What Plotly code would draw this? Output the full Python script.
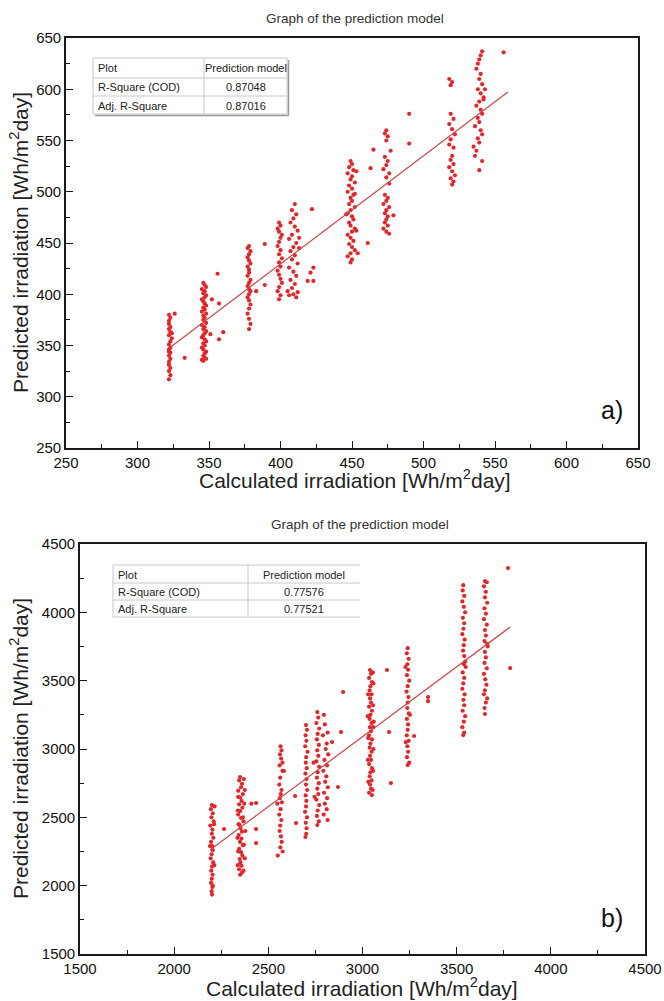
import plotly.graph_objects as go

W, H = 664, 1001

# ---------------- Panel a) data ----------------
a_calc = [
    322,323,322,322,323,322,323,322,324,323,322,323,322,323,322,323,322,322,323,322,323,322,326,333,324,322,
    346,347,348,345,347,346,348,347,345,346,347,348,346,347,345,348,346,347,346,348,345,347,346,348,347,346,345,347,348,346,347,345,346,348,347,346,347,345,346,348,
    351,357,357,360,356,352,
    378,377,379,378,377,378,379,377,378,378,377,379,378,377,378,379,378,377,378,379,378,377,378,379,378,389,389,383,
    399,400,398,399,401,400,399,398,400,399,401,399,400,398,399,400,401,399,398,400,399,
    410,408,411,409,407,410,412,408,406,411,409,407,410,408,412,406,409,411,407,410,408,405,409,411,406,412,413,413,
    422,421,423,419,423,
    449,450,448,451,447,450,449,452,448,450,447,451,449,450,448,452,449,447,450,451,448,449,452,450,447,449,451,448,450,452,449,447,450,449,453,452,446,453,
    454,461,463,465,
    474,473,475,474,473,475,474,472,476,474,473,475,474,472,476,474,473,475,474,473,475,472,474,476,477,476,
    479,490,490,
    518,520,519,519,521,518,520,522,519,518,521,520,519,521,518,520,522,519,521,520,
    541,540,539,538,537,540,539,541,538,540,542,539,537,540,541,538,539,536,540,541,538,539,535,537,536,541,539,543,542,
    556,
]
a_pred = [
    380,377,374,371,368,366,363,360,357,354,351,348,346,343,340,337,334,331,328,325,321,317,381,338,362,344,
    411,409,407,405,403,401,399,397,395,393,391,389,387,385,383,381,379,377,375,372,370,368,366,364,362,360,358,356,354,352,350,348,346,344,342,340,338,336,335,337,
    361,391,356,363,420,395,
    447,445,442,439,436,433,430,427,424,421,418,414,411,408,405,403,400,397,394,390,386,381,376,371,366,449,409,403,
    470,467,464,461,458,455,451,447,443,439,435,431,427,423,419,415,411,407,403,399,395,
    488,482,478,474,470,466,462,458,454,450,446,442,438,434,430,426,422,418,414,410,406,403,400,397,399,402,445,455,
    483,421,426,413,413,
    530,527,524,521,518,515,512,509,506,503,500,497,494,491,488,485,482,479,476,473,470,467,464,461,458,455,452,449,446,443,440,437,434,431,520,498,478,462,
    440,450,523,541,
    560,557,554,550,534,530,526,522,518,514,497,494,491,488,485,482,479,476,473,470,467,464,461,459,540,508,
    477,576,547,
    610,607,604,576,571,566,561,556,551,546,543,535,531,527,524,520,516,513,510,507,
    637,633,629,625,620,615,610,605,600,596,592,588,584,580,576,572,568,564,560,556,552,548,544,540,535,530,521,600,590,
    636,
]
a_fit_x = [322, 559]
a_fit_y = [347.3, 597.4]
a_stats = [["Plot", "Prediction model"], ["R-Square (COD)", "0.87048"], ["Adj. R-Square", "0.87016"]]

# ---------------- Panel b) data ----------------
b_calc = [
    2200,2195,2205,2198,2210,2192,2203,2200,2208,2196,2202,2205,2199,2194,2207,2201,2197,2204,2200,2196,2203,2199,2201,2215,2212,2190,2213,2205,
    2265,
    2350,2345,2360,2355,2340,2365,2350,2358,2345,2362,2350,2340,2355,2368,2347,2352,2360,2343,2357,2350,2365,2345,2355,2362,2348,2352,2358,2345,2360,2350,
    2370,2375,2372,2365,2378,2370,2375,2368,2340,2338,2342,2336,2340,2338,
    2435,2435,2435,2410,
    2565,2570,2562,2568,2560,2575,2563,2558,2570,2566,2561,2572,2565,2558,2569,2563,2560,2567,2571,2564,2576,2550,2575,2548,
    2583,2642,2647,
    2700,2705,2698,2702,2696,2708,2701,2699,2704,2697,2703,2700,2706,2698,2702,2700,2695,2705,2699,2703,2701,2697,
    2760,2765,2755,2770,2762,2758,2768,2760,2765,2755,2770,2762,2758,2768,2760,2765,2755,2770,2762,2758,2768,2760,
    2795,2800,2790,2805,2798,2792,2802,2796,2800,2794,2815,2810,2818,2812,2808,2816,2812,2810,2815,
    2838,2870,2886,2897,2740,2745,
    3040,3045,3035,3050,3042,3038,3048,3040,3045,3035,3050,3042,3038,3048,3040,3045,3035,3050,3042,3038,3048,3040,3045,3035,3050,3042,3038,3048,3040,3045,3035,3050,
    3055,3058,3030,3056,3028,3057,3030,3058,3029,3056,3031,3054,
    3130,3141,3151,3060,
    3240,3235,3245,3238,3242,3236,3248,3240,3234,3244,3240,3238,3246,3236,3242,3240,3235,3245,3238,3242,3236,3248,3240,3228,3252,3230,
    3274,3348,3348,
    3535,3532,3540,3530,3538,3545,3533,3540,3536,3530,3542,3538,3534,3540,3545,3538,3548,3532,3540,3535,3530,3542,3536,3540,3532,3545,3538,3530,3540,3535,
    3650,3660,3645,3655,3650,3662,3648,3655,3645,3660,3650,3655,3648,3662,3665,3650,3655,3648,3660,3645,3652,3658,3650,3645,3662,3655,3648,3650,
    3773,3784,
]
b_pred = [
    2590,2560,2530,2500,2470,2440,2410,2380,2350,2320,2290,2260,2230,2200,2170,2140,2110,2080,2050,2020,1990,1960,1935,2580,2450,2290,2150,2000,
    2414,
    2795,2770,2745,2720,2695,2670,2645,2620,2595,2570,2545,2520,2495,2470,2445,2420,2395,2370,2345,2320,2295,2270,2245,2220,2195,2170,2145,2120,2095,2080,
    2780,2700,2600,2500,2400,2300,2200,2110,2650,2550,2450,2350,2250,2150,
    2605,2414,2312,2600,
    3020,2990,2960,2930,2880,2840,2790,2740,2700,2670,2640,2610,2560,2520,2480,2440,2400,2360,2320,2280,2250,2220,2900,2600,
    2839,2656,2458,
    3175,3140,3100,3060,3020,2980,2940,2900,2860,2820,2780,2740,2700,2660,2620,2580,2540,2500,2460,2420,2380,2356,
    3270,3230,3190,3150,3110,3070,3030,2990,2950,2910,2870,2830,2790,2750,2710,2670,2630,2590,2550,2510,2470,2444,
    3250,3180,3100,3000,2920,2840,2760,2680,2600,2520,3120,3040,2960,2880,2800,2720,2640,2560,2480,
    3051,2722,3124,3417,2900,2650,
    3578,3550,3520,3490,3460,3430,3400,3370,3340,3310,3280,3250,3220,3190,3160,3130,3100,3070,3040,3010,2980,2950,2920,2890,2860,2830,2800,2770,2740,2710,2680,2663,
    3560,3480,3400,3320,3240,3160,3080,3000,2920,2840,2760,2700,
    3578,3124,2751,3200,
    3738,3700,3660,3620,3580,3540,3500,3460,3420,3380,3340,3300,3260,3220,3180,3140,3100,3060,3020,2980,2940,2900,2883,3600,3250,3050,
    3095,3380,3350,
    4199,4160,4120,4080,4040,4000,3960,3920,3880,3840,3800,3760,3720,3680,3640,3620,3600,3560,3520,3480,3440,3400,3360,3320,3280,3240,3200,3160,3120,3102,
    4229,4220,4190,4150,4110,4070,4030,3990,3950,3910,3870,3830,3790,3770,3750,3710,3670,3630,3590,3550,3510,3470,3430,3400,3370,3340,3300,3256,
    4324,3592,
]
b_fit_x = [2190, 3784]
b_fit_y = [2261, 3892]
b_stats = [["Plot", "Prediction model"], ["R-Square (COD)", "0.77576"], ["Adj. R-Square", "0.77521"]]

TITLE = "Graph of the prediction model"
X_TITLE = "Calculated irradiation [Wh/m<sup>2</sup>day]"
Y_TITLE = "Predicted irradiation [Wh/m<sup>2</sup>day]"

FONT = "Liberation Sans, Arial, sans-serif"
PT_COLOR = "#e0282c"
LINE_COLOR = "#c9474b"


def px(x):
    return x / W


def py(y):
    return 1 - y / H


fig = go.Figure()

# panel geometry in pixels: (left, right, top, bottom)
geo = {
    "a": (66, 638, 38, 448),
    "b": (80, 645, 544, 954),
}

fig.add_trace(go.Scatter(x=a_calc, y=a_pred, mode="markers", xaxis="x", yaxis="y",
                         marker=dict(color=PT_COLOR, size=4.2), showlegend=False))
fig.add_trace(go.Scatter(x=a_fit_x, y=a_fit_y, mode="lines", xaxis="x", yaxis="y",
                         line=dict(color=LINE_COLOR, width=1.2), showlegend=False))
fig.add_trace(go.Scatter(x=b_calc, y=b_pred, mode="markers", xaxis="x2", yaxis="y2",
                         marker=dict(color=PT_COLOR, size=4.2), showlegend=False))
fig.add_trace(go.Scatter(x=b_fit_x, y=b_fit_y, mode="lines", xaxis="x2", yaxis="y2",
                         line=dict(color=LINE_COLOR, width=1.2), showlegend=False))


def axis(rng, dtick, minor_dtick, dom, anchor):
    return dict(
        range=rng, dtick=dtick, tick0=rng[0], domain=dom, anchor=anchor, automargin=False,
        showgrid=False, zeroline=False, showline=True, linecolor="#1a1a1a", linewidth=1.6,
        mirror=True, ticks="inside", ticklen=7, tickwidth=1.3, tickcolor="#1a1a1a",
        minor=dict(ticks="inside", ticklen=4, tickwidth=1.2, dtick=minor_dtick, tick0=rng[0],
                   tickcolor="#1a1a1a", showgrid=False),
        tickfont=dict(family=FONT, size=15, color="#111"),
    )


la, ra, ta, ba = geo["a"]
lb, rb, tb, bb = geo["b"]

fig.update_layout(
    width=W, height=H,
    margin=dict(l=0, r=0, t=0, b=0),
    paper_bgcolor="white", plot_bgcolor="white",
    xaxis=axis([250, 650], 50, 25, [px(la), px(ra)], "y"),
    yaxis=axis([250, 650], 50, 25, [py(ba), py(ta)], "x"),
    xaxis2=axis([1500, 4500], 500, 250, [px(lb), px(rb)], "y2"),
    yaxis2=axis([1500, 4500], 500, 250, [py(bb), py(tb)], "x2"),
)

ann = []
shapes = []


def text(x, y, s, size, color="#111", xanchor="center", angle=0):
    ann.append(dict(x=px(x), y=py(y), xref="paper", yref="paper", text=s, showarrow=False,
                    xanchor=xanchor, yanchor="middle", textangle=angle,
                    font=dict(family=FONT, size=size, color=color)))


def hline(x0, x1, y, color="#c8c8c8", width=1):
    shapes.append(dict(type="line", xref="paper", yref="paper", x0=px(x0), x1=px(x1),
                       y0=py(y), y1=py(y), line=dict(color=color, width=width)))


def vline(x, y0, y1, color="#c8c8c8", width=1):
    shapes.append(dict(type="line", xref="paper", yref="paper", x0=px(x), x1=px(x),
                       y0=py(y0), y1=py(y1), line=dict(color=color, width=width)))


# titles and axis titles
text(355, 18, TITLE, 13.5, "#333")
text(360, 524, TITLE, 13.5, "#333")
text(355, 479, X_TITLE, 21, "#222")
text(362, 987, X_TITLE, 21, "#222")
text(19, 243, Y_TITLE, 21, "#222", angle=-90)
text(19, 749, Y_TITLE, 21, "#222", angle=-90)
text(612, 410, "a)", 25, "#111")
text(612, 918, "b)", 25, "#111")

# table a
tl, tc, tr = 93, 204, 287
rows_a = [58, 78, 96, 114]
for yy in rows_a:
    hline(tl, tr, yy)
vline(tl, rows_a[0], rows_a[-1])
vline(tc, rows_a[0], rows_a[-1])
vline(tr, rows_a[0], rows_a[-1])
vline(tr + 1.5, rows_a[0] + 2, rows_a[-1] + 1.5, color="#9a9a9a", width=1.5)
hline(tl + 2, tr + 1.5, rows_a[-1] + 1.5, color="#9a9a9a", width=1.5)
for i, (c1, c2) in enumerate(a_stats):
    yc = (rows_a[i] + rows_a[i + 1]) / 2 + 0.5
    text(tl + 3, yc, c1, 11, "#222", xanchor="left")
    text((tc + tr) / 2, yc, c2, 11, "#222")

# table b
ul, uc, ur = 113, 248, 360
rows_b = [565, 583, 600, 617]
for yy in rows_b:
    hline(ul, ur, yy)
vline(ul, rows_b[0], rows_b[-1])
vline(uc, rows_b[0], rows_b[-1])
for i, (c1, c2) in enumerate(b_stats):
    yc = (rows_b[i] + rows_b[i + 1]) / 2 + 0.5
    text(ul + 3, yc, c1, 11, "#222", xanchor="left")
    text((uc + ur) / 2, yc, c2, 11, "#222")

fig.update_layout(annotations=ann, shapes=shapes)

fig.write_html(
    "out.html",
    config={"displayModeBar": False},
    post_script="document.body.style.margin='0px';document.body.style.padding='0px';"
                "document.body.style.overflow='hidden';",
)
